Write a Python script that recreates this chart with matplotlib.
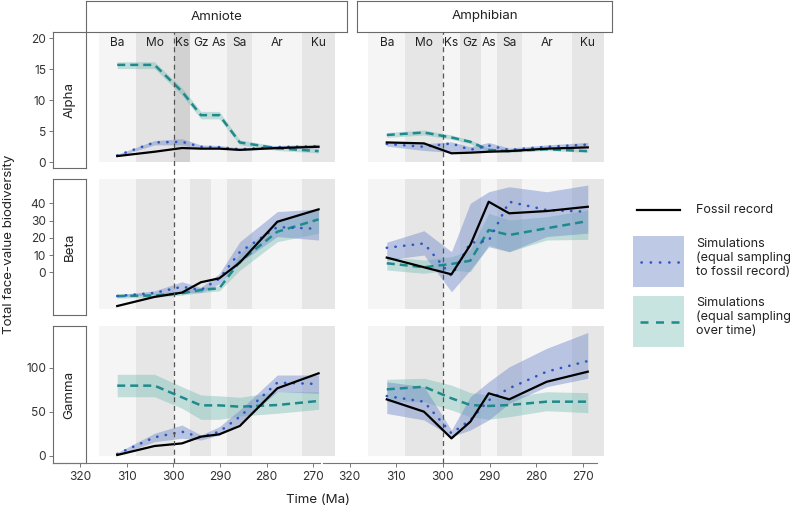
import matplotlib
matplotlib.use("Agg")
import matplotlib.pyplot as plt
from matplotlib.patches import Rectangle

plt.rcParams['font.family'] = ['Inter', 'DejaVu Sans']

# ---------------- data ----------------
stages = ["Ba", "Mo", "Ks", "Gz", "As", "Sa", "Ar", "Ku"]
stage_bounds = [316.1, 308.1, 300.0, 296.4, 291.9, 288.5, 283.1, 272.4, 265.4]
time_ma = [312.1, 304.1, 298.2, 294.15, 290.2, 285.8, 277.75, 268.9]
columns = ["Amniote", "Amphibian"]
rows = ["Alpha", "Beta", "Gamma"]

# Alpha
alpha_amn_fossil = [1.0, 1.7, 2.3, 2.2, 2.2, 2.0, 2.3, 2.5]
alpha_amn_fs = [1.1, 3.2, 3.3, 2.5, 2.45, 2.1, 2.45, 2.6]
alpha_amn_fs_lo = [0.9, 2.8, 2.8, 2.2, 2.2, 1.9, 2.2, 2.3]
alpha_amn_fs_hi = [1.3, 3.5, 3.8, 2.8, 2.7, 2.3, 2.7, 2.9]
alpha_amn_eq = [15.7, 15.7, 11.4, 7.6, 7.6, 3.2, 2.25, 1.8]
alpha_amn_eq_lo = [15.1, 15.1, 10.8, 7.0, 7.0, 2.8, 1.9, 1.5]
alpha_amn_eq_hi = [16.2, 16.2, 12.0, 8.2, 8.2, 3.6, 2.6, 2.2]

alpha_amp_fossil = [3.2, 3.05, 1.45, 1.55, 1.7, 1.8, 2.2, 2.4]
alpha_amp_fs = [2.95, 2.5, 3.05, 2.0, 2.7, 2.0, 2.5, 2.85]
alpha_amp_fs_lo = [2.6, 1.9, 1.6, 1.6, 1.9, 1.7, 2.2, 2.5]
alpha_amp_fs_hi = [3.3, 3.0, 3.3, 2.5, 3.2, 2.3, 2.8, 3.2]
alpha_amp_eq = [4.4, 4.8, 4.0, 3.3, 2.0, 1.8, 2.1, 1.8]
alpha_amp_eq_lo = [4.0, 4.4, 3.7, 3.0, 1.8, 1.6, 1.9, 1.6]
alpha_amp_eq_hi = [4.8, 5.2, 4.4, 3.6, 2.3, 2.0, 2.4, 2.1]

# Beta
beta_amn_fossil = [1.7, 7.0, 9.5, 15.5, 17.8, 26.9, 50.6, 57.8]
beta_amn_fs = [7.5, 9.3, 12.9, 11.0, 17.5, 33.0, 47.5, 46.5]
beta_amn_fs_lo = [6.8, 8.5, 9.5, 9.5, 14.5, 27.0, 42.0, 40.0]
beta_amn_fs_hi = [8.2, 10.5, 15.8, 12.5, 20.5, 39.0, 56.5, 58.0]
beta_amn_eq = [7.5, 7.8, 9.1, 11.0, 12.0, 27.5, 44.8, 52.0]
beta_amn_eq_lo = [6.3, 6.8, 8.0, 9.5, 10.5, 22.5, 39.0, 44.0]
beta_amn_eq_hi = [8.7, 9.0, 10.5, 12.5, 13.5, 32.0, 51.0, 58.0]

beta_amp_fossil = [29.8, 24.2, 20.1, 37.1, 62.2, 55.5, 56.8, 59.3]
beta_amp_fs = [35.5, 38.0, 19.1, 38.4, 39.5, 62.2, 57.4, 56.4]
beta_amp_fs_lo = [28.4, 31.3, 10.0, 22.6, 36.1, 33.2, 42.0, 44.0]
beta_amp_fs_hi = [38.7, 45.4, 33.2, 61.3, 68.0, 70.9, 68.0, 71.9]
beta_amp_eq = [26.5, 24.2, 26.1, 28.0, 45.8, 42.9, 46.8, 51.0]
beta_amp_eq_lo = [22.6, 20.7, 22.6, 21.6, 37.1, 33.2, 40.0, 40.4]
beta_amp_eq_hi = [30.3, 28.4, 30.3, 34.2, 55.5, 51.6, 53.5, 57.4]

# Gamma
gamma_amn_fossil = [0.8, 11.0, 14.0, 21.6, 24.3, 33.8, 76.6, 93.6]
gamma_amn_fs = [2.0, 20.9, 27.3, 20.9, 27.3, 44.3, 83.0, 81.5]
gamma_amn_fs_lo = [0.5, 15.9, 19.8, 17.8, 23.5, 36.8, 72.7, 70.9]
gamma_amn_fs_hi = [3.5, 25.5, 34.9, 23.5, 33.0, 52.0, 91.7, 91.7]
gamma_amn_eq = [79.6, 79.6, 66.3, 57.2, 57.2, 55.7, 57.6, 62.2]
gamma_amn_eq_lo = [67.0, 67.0, 53.9, 41.3, 41.3, 45.1, 48.2, 52.7]
gamma_amn_eq_hi = [92.5, 92.5, 78.4, 69.0, 68.0, 66.4, 72.7, 72.7]

gamma_amp_fossil = [64.0, 50.0, 19.7, 38.6, 70.9, 64.0, 84.0, 95.5]
gamma_amp_fs = [67.8, 61.4, 25.4, 40.6, 63.0, 76.6, 95.5, 107.6]
gamma_amp_fs_lo = [48.0, 40.6, 21.6, 29.2, 40.6, 59.5, 78.4, 88.0]
gamma_amp_fs_hi = [84.0, 78.4, 29.2, 67.0, 84.0, 101.0, 122.0, 140.0]
gamma_amp_eq = [75.4, 78.4, 65.2, 57.6, 56.5, 57.6, 61.4, 61.4]
gamma_amp_eq_lo = [61.4, 61.4, 51.9, 44.3, 41.4, 44.3, 51.1, 48.9]
gamma_amp_eq_hi = [86.8, 88.0, 80.3, 71.6, 69.0, 66.4, 72.7, 71.6]

y_ticks = {"Alpha": [0, 5, 10, 15, 20], "Beta": [0, 10, 20, 30, 40], "Gamma": [0, 50, 100]}
x_ticks = [320, 310, 300, 290, 280, 270]

panels = {
    ("Alpha", "Amniote"): (alpha_amn_fossil, alpha_amn_fs, alpha_amn_fs_lo, alpha_amn_fs_hi, alpha_amn_eq, alpha_amn_eq_lo, alpha_amn_eq_hi),
    ("Alpha", "Amphibian"): (alpha_amp_fossil, alpha_amp_fs, alpha_amp_fs_lo, alpha_amp_fs_hi, alpha_amp_eq, alpha_amp_eq_lo, alpha_amp_eq_hi),
    ("Beta", "Amniote"): (beta_amn_fossil, beta_amn_fs, beta_amn_fs_lo, beta_amn_fs_hi, beta_amn_eq, beta_amn_eq_lo, beta_amn_eq_hi),
    ("Beta", "Amphibian"): (beta_amp_fossil, beta_amp_fs, beta_amp_fs_lo, beta_amp_fs_hi, beta_amp_eq, beta_amp_eq_lo, beta_amp_eq_hi),
    ("Gamma", "Amniote"): (gamma_amn_fossil, gamma_amn_fs, gamma_amn_fs_lo, gamma_amn_fs_hi, gamma_amn_eq, gamma_amn_eq_lo, gamma_amn_eq_hi),
    ("Gamma", "Amphibian"): (gamma_amp_fossil, gamma_amp_fs, gamma_amp_fs_lo, gamma_amp_fs_hi, gamma_amp_eq, gamma_amp_eq_lo, gamma_amp_eq_hi),
}

# ---------------- layout (pixels) ----------------
W, H = 795, 508
fig = plt.figure(figsize=(W / 100, H / 100), dpi=100)


def box(x0, y0, x1, y1):
    return [x0 / W, 1 - y1 / H, (x1 - x0) / W, (y1 - y0) / H]


col_px = {"Amniote": (86, 347), "Amphibian": (357, 612)}
col_xlim = {"Amniote": (318.8, 262.8), "Amphibian": (318.5, 263.7)}
row_px = {"Alpha": (32, 168), "Beta": (179, 315), "Gamma": (326, 463)}
panel_ylim = {"Alpha": (-0.92, 21.0), "Beta": (-3.5, 75.4), "Gamma": (-8.3, 147.4)}
tick_ylim = {"Alpha": (-0.92, 21.0), "Beta": (-24.75, 54.1), "Gamma": (-8.3, 147.4)}

LIGHT, DARK = "#f5f5f5", "#e6e6e6"
BLUE_FILL, BLUE_LINE = "#6f89c9", "#2f57c2"
TEAL_FILL, TEAL_LINE = "#5fb3a8", "#1f8a8e"
STRIP_EDGE = "#6a6a6a"
TXT = "#222222"
FS_TICK, FS_STRIP, FS_LAB, FS_STAGE, FS_LEG = 8.6, 9.6, 9.6, 8.6, 9.1

for r in rows:
    y0, y1 = row_px[r]
    for c in columns:
        x0, x1 = col_px[c]
        ax = fig.add_axes(box(x0, y0, x1, y1))
        ax.set_xlim(*col_xlim[c])
        ax.set_ylim(*panel_ylim[r])
        ylo, yhi = panel_ylim[r]
        fr0 = (0 - ylo) / (yhi - ylo)
        for i, s in enumerate(stages):
            col = DARK if i % 2 else LIGHT
            if r == "Alpha" and c == "Amniote":
                col = ["#f5f5f5", "#e3e3e3", "#d2d2d2", "#f3f3f3",
                       "#f3f3f3", "#e6e6e6", "#f5f5f5", "#e6e6e6"][i]
            ax.axvspan(stage_bounds[i], stage_bounds[i + 1], ymin=fr0, ymax=1,
                       color=col, lw=0, zorder=0)
            if r == "Alpha":
                ax.text((stage_bounds[i] + stage_bounds[i + 1]) / 2, 19.2, s,
                        ha="center", va="center", fontsize=FS_STAGE, color=TXT, zorder=5)
        fossil, fs, fs_lo, fs_hi, eq, eq_lo, eq_hi = panels[(r, c)]
        ax.fill_between(time_ma, eq_lo, eq_hi, color=TEAL_FILL, alpha=0.35, lw=0, zorder=1)
        ax.fill_between(time_ma, fs_lo, fs_hi, color=BLUE_FILL, alpha=0.45, lw=0, zorder=2)
        ax.plot(time_ma, eq, color=TEAL_LINE, lw=1.8, ls=(0, (3.2, 2.0)), zorder=3)
        ax.plot(time_ma, fs, color=BLUE_LINE, lw=1.9, ls=(0, (0.1, 3.2)),
                dash_capstyle="round", zorder=4)
        ax.plot(time_ma, fossil, color="black", lw=1.6, zorder=5)
        ax.set_axis_off()

    # row strip with y ticks
    sax = fig.add_axes(box(53, y0, 86, y1))
    sax.set_xlim(0, 1)
    sax.set_ylim(*tick_ylim[r])
    sax.set_xticks([])
    sax.set_yticks(y_ticks[r])
    sax.tick_params(axis="y", length=3, width=0.7, color="#777777",
                    labelsize=FS_TICK, labelcolor="#333333", pad=2)
    for sp in sax.spines.values():
        sp.set_color(STRIP_EDGE)
        sp.set_linewidth(0.8)
    sax.text(0.5, 0.5, r, transform=sax.transAxes, rotation=90, ha="center",
             va="center", fontsize=FS_STRIP, color=TXT)

# column strips
for c in columns:
    x0, x1 = col_px[c]
    cax = fig.add_axes(box(x0, 1, x1, 32))
    cax.set_xticks([])
    cax.set_yticks([])
    for sp in cax.spines.values():
        sp.set_color(STRIP_EDGE)
        sp.set_linewidth(0.8)
    cax.text(0.5, 0.5, c, transform=cax.transAxes, ha="center", va="center",
             fontsize=FS_STRIP, color=TXT)
    # dashed reference line across the whole column
    oax = fig.add_axes(box(x0, 32, x1, 463))
    oax.set_xlim(*col_xlim[c])
    oax.set_ylim(0, 1)
    oax.axvline(300, color="#555555", lw=0.9, ls=(0, (4, 3)))
    oax.set_axis_off()

# x axes
xaxes = {"Amniote": ((53, 320), (325.86, 268.56)), "Amphibian": ((323, 597), (325.74, 266.93))}
for c in columns:
    (x0, x1), xl = xaxes[c]
    xa = fig.add_axes(box(x0, 461, x1, 463))
    xa.set_facecolor("none")
    xa.set_xlim(*xl)
    xa.set_xticks(x_ticks)
    xa.set_yticks([])
    for k in ("top", "left", "right"):
        xa.spines[k].set_visible(False)
    xa.spines["bottom"].set_color("#777777")
    xa.spines["bottom"].set_linewidth(0.8)
    xa.tick_params(axis="x", length=3, width=0.7, color="#777777",
                   labelsize=FS_TICK, labelcolor="#333333", pad=3)

fig.text(318 / W, 1 - 500 / H, "Time (Ma)", ha="center", va="center",
         fontsize=FS_LAB, color=TXT)
fig.text(9 / W, 1 - 244 / H, "Total face-value biodiversity", rotation=90,
         ha="center", va="center", fontsize=FS_LAB, color=TXT)

# legend
lax = fig.add_axes(box(620, 195, 795, 355))
lax.set_xlim(620, 795)
lax.set_ylim(355, 195)
lax.set_axis_off()
lax.plot([637, 680], [210, 210], color="black", lw=1.6)
lax.text(696, 210, "Fossil record", ha="left", va="center", fontsize=FS_LEG, color=TXT)
lax.add_patch(Rectangle((633, 236), 51, 51, facecolor=BLUE_FILL, alpha=0.45, lw=0))
lax.plot([641, 680], [262, 262], color=BLUE_LINE, lw=1.9, ls=(0, (0.1, 3.4)),
         dash_capstyle="round")
lax.text(696, 258, "Simulations\n(equal sampling\nto fossil record)", ha="left",
         va="center", fontsize=FS_LEG, color=TXT, linespacing=1.15)
lax.add_patch(Rectangle((633, 296), 51, 51, facecolor=TEAL_FILL, alpha=0.35, lw=0))
lax.plot([640, 682], [322, 322], color=TEAL_LINE, lw=1.8, ls=(0, (3.2, 3.0)))
lax.text(696, 317, "Simulations\n(equal sampling\nover time)", ha="left",
         va="center", fontsize=FS_LEG, color=TXT, linespacing=1.15)

fig.savefig("out.png", dpi=100)
